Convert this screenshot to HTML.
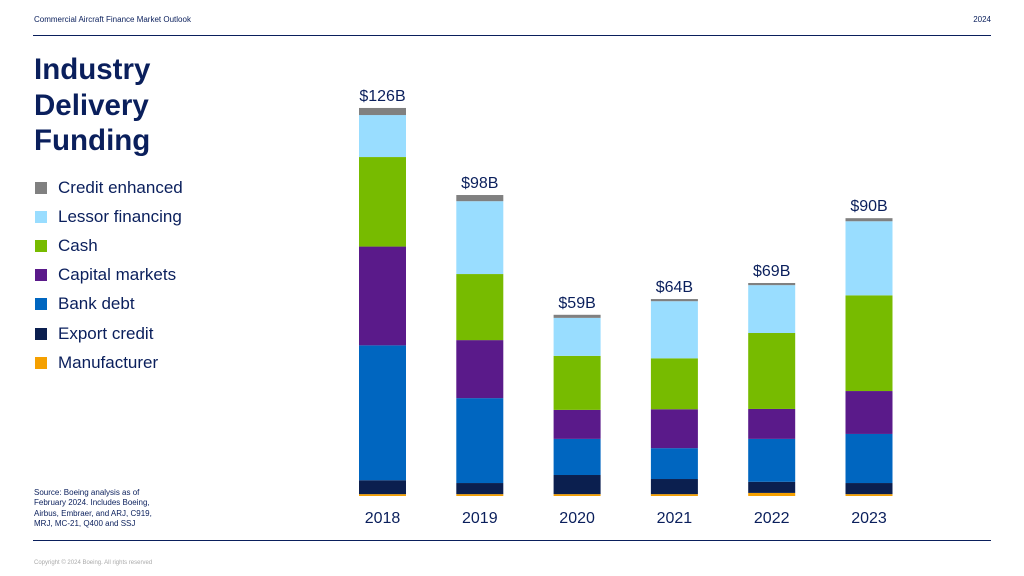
<!DOCTYPE html>
<html><head><meta charset="utf-8"><style>
body{margin:0;width:1024px;height:576px;background:#fff;font-family:"Liberation Sans",sans-serif;position:relative;overflow:hidden}
.abs{position:absolute}
</style></head><body>
<div class="abs" style="left:34px;top:15px;font-size:8px;color:#0a1f5c">Commercial Aircraft Finance Market Outlook</div>
<div class="abs" style="right:33px;top:15px;font-size:8px;color:#0a1f5c">2024</div>
<div class="abs" style="left:33px;top:35px;width:958px;height:1px;background:#0a1f5c"></div>
<div class="abs" style="left:34px;top:52px;font-size:29.5px;font-weight:bold;color:#0a1f5c;line-height:35.5px">Industry<br>Delivery<br>Funding</div>
<div id="legend"></div>
<div class="abs" style="left:34px;top:488px;font-size:8px;color:#0a1f5c;line-height:10.3px">Source: Boeing analysis as of<br>February 2024. Includes Boeing,<br>Airbus, Embraer, and ARJ, C919,<br>MRJ, MC-21, Q400 and SSJ</div>
<div class="abs" style="left:33px;top:540px;width:958px;height:1px;background:#0a1f5c"></div>
<div class="abs" style="left:34px;top:560px;font-size:6px;color:#aaa">Copyright © 2024 Boeing. All rights reserved</div>
<svg class="abs" style="left:0;top:0" width="1024" height="576" id="chart"></svg>
<script>
const years=["2018","2019","2020","2021","2022","2023"];
const totals=["$126B","$98B","$59B","$64B","$69B","$90B"];
const seriesNames=["Manufacturer","Export credit","Bank debt","Capital markets","Cash","Lessor financing","Credit enhanced"];
const colors=["#f5a000","#0b1f4f","#0066c0","#5a1a8a","#77bb00","#99ddff","#808080"];
const manufacturer=[0.6,0.6,0.6,0.6,1.0,0.6];
const exportCredit=[4.5,3.6,6.2,4.9,3.6,3.6];
const bankDebt=[43.7,27.5,11.7,10.0,13.9,15.9];
const capitalMarkets=[32.0,18.8,9.4,12.6,9.7,13.9];
const cash=[29.0,21.4,17.5,16.5,24.6,31.0];
const lessor=[13.6,23.6,12.3,18.5,15.5,24.0];
const creditEnhanced=[2.3,2.0,1.0,0.7,0.7,1.0];
const series=[manufacturer,exportCredit,bankDebt,capitalMarkets,cash,lessor,creditEnhanced];
const ns="http://www.w3.org/2000/svg";
const svg=document.getElementById('chart');
const base=496,k=3.087;
const y=v=>base-v*k;
const x=i=>359+i*97.3;
const bw=47;
years.forEach((yr,i)=>{
  let acc=0;
  series.forEach((s,j)=>{
    const r=document.createElementNS(ns,'rect');
    r.setAttribute('x',x(i));r.setAttribute('width',bw);
    r.setAttribute('y',y(acc+s[i]));r.setAttribute('height',s[i]*k);
    r.setAttribute('fill',colors[j]);
    
    
    svg.appendChild(r);acc+=s[i];
  });
  const t=document.createElementNS(ns,'text');
  t.setAttribute('x',x(i)+bw/2);t.setAttribute('y',y(acc)-7);
  t.setAttribute('text-anchor','middle');t.setAttribute('font-size','16');t.setAttribute('fill','#0a1f5c');
  t.textContent=totals[i];
  
  
  svg.appendChild(t);
  const l=document.createElementNS(ns,'text');
  l.setAttribute('x',x(i)+bw/2);l.setAttribute('y',523);
  l.setAttribute('text-anchor','middle');l.setAttribute('font-size','16');l.setAttribute('fill','#0a1f5c');
  l.textContent=yr;
  
  
  svg.appendChild(l);
});
const lg=document.getElementById('legend');
for(let j=6;j>=0;j--){
  const row=6-j;
  const d=document.createElement('div');
  d.className='abs';
  d.style.cssText='left:35px;top:'+(179+row*29.2)+'px;height:17px;display:flex;align-items:center;font-size:17px;color:#0a1f5c';
  d.innerHTML='<span style="display:inline-block;width:12px;height:12px;background:'+colors[j]+';margin-right:11px"></span>'+seriesNames[j];
  
  
  lg.appendChild(d);
}
</script>
</body></html>
